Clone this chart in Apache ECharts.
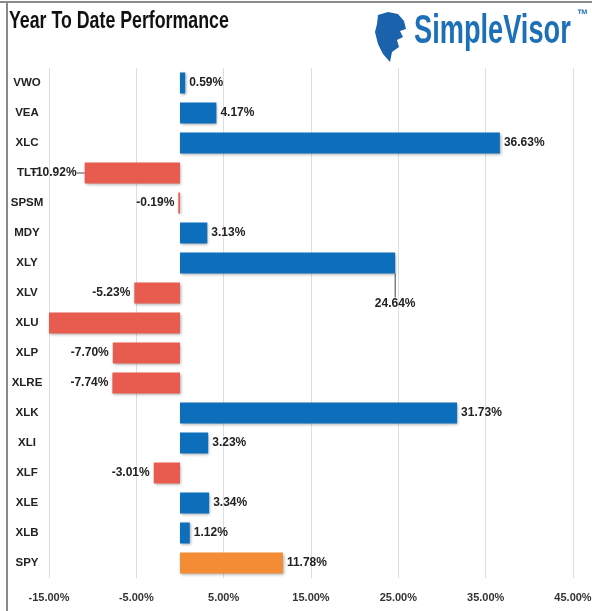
<!DOCTYPE html>
<html>
<head>
<meta charset="utf-8">
<script src="https://cdn.jsdelivr.net/npm/echarts@6/dist/echarts.min.js"></script>
<style>
  html, body { margin: 0; padding: 0; background: #fff; }
  #main { width: 592px; height: 611px; }
</style>
</head>
<body>
<div id="main"></div>
<script>
// year to date performance, top row first
var categories = ['VWO', 'VEA', 'XLC', 'TLT', 'SPSM', 'MDY', 'XLY', 'XLV', 'XLU', 'XLP', 'XLRE', 'XLK', 'XLI', 'XLF', 'XLE', 'XLB', 'SPY'];
var ytdValues = [0.59, 4.17, 36.63, -10.92, -0.19, 3.13, 24.64, -5.23, -17.5, -7.70, -7.74, 31.73, 3.23, -3.01, 3.34, 1.12, 11.78];
var benchmark = 'SPY';
var hiddenLabels = ['XLU'];
var tickLabels = [-15, -5, 5, 15, 25, 35, 45];

var font = "'Liberation Sans', Arial, sans-serif";
var blue = '#0d6fbb', red = '#e85b4f', orange = '#f48b35', logoBlue = '#1c70b8';

var myChart = echarts.init(document.getElementById('main'));

var barData = ytdValues.map(function (v, i) {
  var name = categories[i];
  var item = {
    value: v,
    itemStyle: { color: name === benchmark ? orange : (v < 0 ? red : blue) },
    label: { position: v < 0 ? 'left' : 'right' }
  };
  if (hiddenLabels.indexOf(name) >= 0) item.label.show = false;
  if (name === 'XLY' || name === 'TLT') item.labelLine = { show: true, lineStyle: { color: '#444', width: 1 } };
  return item;
});

myChart.setOption({
  animation: false,
  backgroundColor: '#fff',
  graphic: [
    { type: 'line', shape: { x1: 0, y1: 2, x2: 592, y2: 2 }, style: { stroke: '#8a8a8a', lineWidth: 2 } },
    { type: 'line', shape: { x1: 7, y1: 2, x2: 7, y2: 611 }, style: { stroke: '#8a8a8a', lineWidth: 2 } },
    // title, squeezed to look like a narrow face
    {
      type: 'text', x: 9, y: 21, scaleX: 0.74, z: 10,
      style: { text: 'Year To Date Performance', fontFamily: font, fontWeight: 'bold', fontSize: 24, fill: '#111', verticalAlign: 'middle' }
    },
    {
      type: 'polygon', z: 10,
      shape: { points: [[378, 15], [388, 12], [398, 14], [404, 21], [406, 29], [400, 31], [403, 37], [397, 40], [399, 47], [392, 52], [390, 62], [383, 54], [378, 44], [375, 32], [377, 24]] },
      style: { fill: '#1b62ad' }
    },
    {
      type: 'text', x: 414, y: 32, scaleX: 0.68, z: 10,
      style: { text: 'SimpleVisor', fontFamily: font, fontWeight: 'bold', fontSize: 40, fill: logoBlue, verticalAlign: 'middle' }
    },
    {
      type: 'text', x: 577, y: 15, scaleX: 0.8, z: 10,
      style: { text: '™', fontFamily: font, fontWeight: 'bold', fontSize: 14, fill: logoBlue, verticalAlign: 'middle' }
    }
  ],
  grid: { left: 49, right: 19, top: 68, bottom: 33, outerBoundsMode: 'none' },
  xAxis: {
    type: 'value',
    min: -15, max: 45, interval: 5,
    axisLine: { show: false },
    axisTick: { show: false },
    splitLine: { show: true, lineStyle: { color: ['#dedede', 'rgba(0,0,0,0)'], width: 1 } },
    axisLabel: {
      margin: 14,
      fontFamily: font, fontSize: 11, fontWeight: 'bold', color: '#333',
      formatter: function (v) {
        return tickLabels.indexOf(v) >= 0 ? v.toFixed(2) + '%' : '';
      }
    }
  },
  yAxis: {
    type: 'category',
    inverse: true,
    data: categories,
    axisLine: { show: false },
    axisTick: { show: false },
    splitLine: { show: false },
    axisLabel: {
      margin: 22, align: 'center',
      fontFamily: font, fontSize: 11.5, fontWeight: 'bold', color: '#222'
    }
  },
  series: [{
    type: 'bar',
    data: barData,
    barCategoryGap: '30%',
    itemStyle: { shadowColor: 'rgba(0,0,0,0.35)', shadowBlur: 3, shadowOffsetX: 1, shadowOffsetY: 1 },
    label: {
      show: true, distance: 4,
      fontFamily: font, fontSize: 12, fontWeight: 'bold', color: '#222',
      formatter: function (p) { return p.value.toFixed(2) + '%'; }
    },
    labelLayout: function (p) {
      var name = categories[p.dataIndex];
      var r = p.rect;
      if (name === 'XLY') {
        var ex = r.x + r.width;
        return {
          x: ex, y: r.y + r.height + 30, align: 'center', verticalAlign: 'middle',
          labelLinePoints: [[ex, r.y + r.height / 2], [ex, r.y + r.height + 10], [ex + 1, r.y + r.height + 21]]
        };
      }
      if (name === 'TLT') {
        var cy = r.y + r.height / 2;
        return {
          x: r.x - 8, y: cy, align: 'right', verticalAlign: 'middle',
          labelLinePoints: [[r.x, cy], [r.x - 2, cy], [r.x - 5, cy]]
        };
      }
      return {};
    }
  }]
});
</script>
</body>
</html>
